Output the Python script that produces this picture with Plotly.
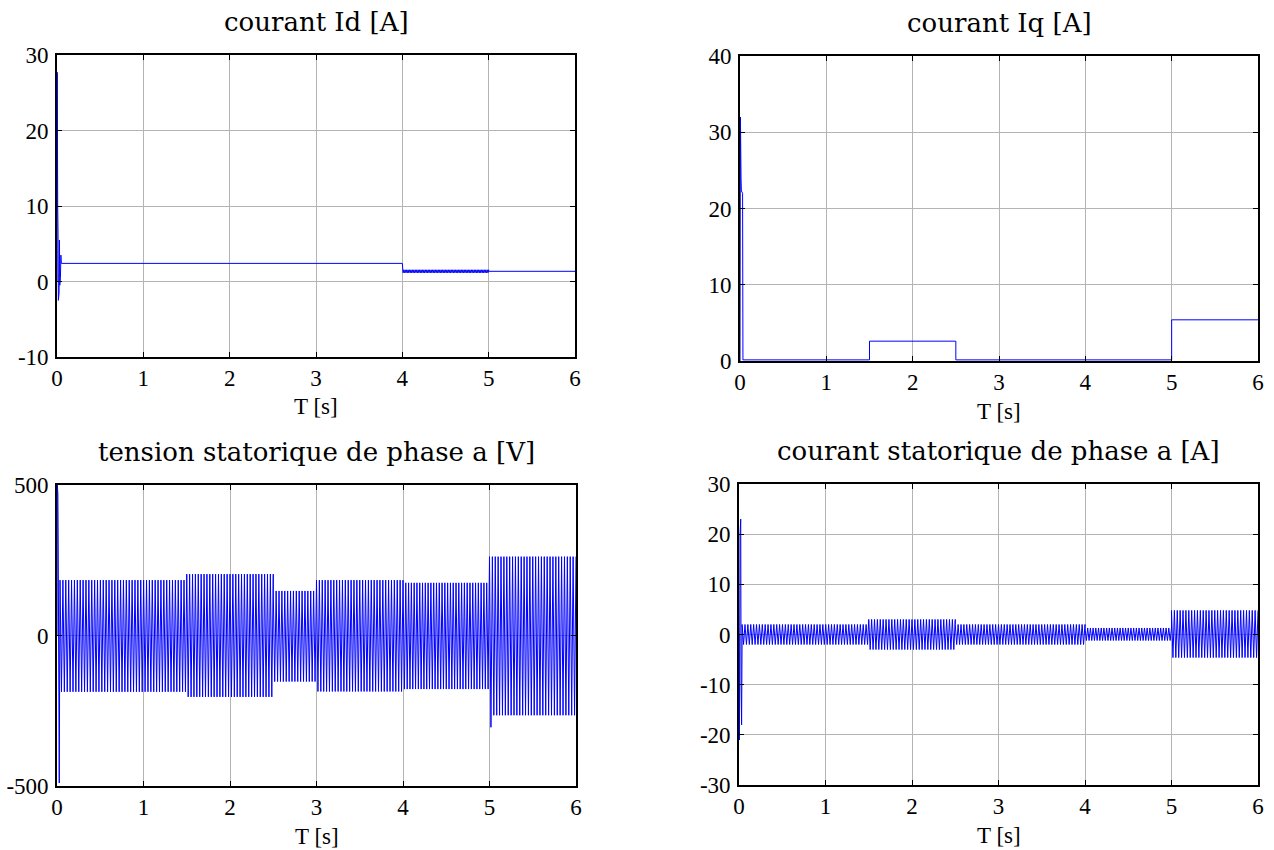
import plotly.graph_objects as go

W, H = 1274, 850
BLUE = "#0000FF"

# ---------------- data ----------------
# time axis ticks
x_ticks = [0, 1, 2, 3, 4, 5, 6]

# courant Id [A]
id_trans_t = [0.0, 0.003, 0.008, 0.012, 0.016, 0.020, 0.024, 0.028, 0.032, 0.036, 0.040, 0.045, 0.050]
id_trans_v = [0.0, 27.7, 10.0, 6.3, -2.5, 6.0, -1.5, 5.5, -0.5, 4.5, 0.5, 3.5, 2.4]
id_seg_t0 = [0.050, 4.0, 5.0]
id_seg_t1 = [4.0, 5.0, 6.0]
id_seg_hi = [2.4, 1.55, 1.35]
id_seg_lo = [2.4, 1.15, 1.35]
id_seg_rate = [0, 60, 0]
id_yticks = [-10, 0, 10, 20, 30]
id_ytext = ["-10", "0", "10", "20", "30"]

# courant Iq [A]
iq_trans_t = [0.0, 0.005, 0.012, 0.016, 0.030, 0.034]
iq_trans_v = [0.0, 32.0, 24.0, 22.3, 22.0, 0.15]
iq_seg_t0 = [0.034, 1.5, 2.5, 5.0]
iq_seg_t1 = [1.5, 2.5, 5.0, 6.0]
iq_seg_hi = [0.15, 2.6, 0.15, 5.4]
iq_seg_lo = [0.15, 2.6, 0.15, 5.4]
iq_seg_rate = [0, 0, 0, 0]
iq_yticks = [0, 10, 20, 30, 40]
iq_ytext = ["0", "10", "20", "30", "40"]

# tension statorique de phase a [V]
va_trans_t = [0.0, 0.004, 0.010, 0.014, 0.018, 0.026, 0.032]
va_trans_v = [0.0, 500.0, 470.0, 300.0, -490.0, -490.0, 0.0]
va_seg_t0 = [0.035, 1.5, 2.5, 3.0, 4.0, 5.0]
va_seg_t1 = [1.5, 2.5, 3.0, 4.0, 5.0, 6.0]
va_seg_hi = [184, 204, 148, 184, 175, 262]
va_seg_lo = [-187, -204, -153, -186, -178, -265]
va_seg_rate = [30, 30, 30, 30, 31, 30]
va_dip_t = [5.0]
va_dip_v = [-305]
va_yticks = [-500, 0, 500]
va_ytext = ["-500", "0", "500"]

# courant statorique de phase a [A]
ia_trans_t = [0.0, 0.005, 0.012, 0.020, 0.024, 0.030, 0.036]
ia_trans_v = [0.0, -21.0, 20.0, 23.0, -10.0, -18.0, 0.0]
ia_seg_t0 = [0.036, 1.5, 2.5, 4.0, 5.0]
ia_seg_t1 = [1.5, 2.5, 4.0, 5.0, 6.0]
ia_seg_hi = [2.0, 3.0, 2.0, 1.3, 4.8]
ia_seg_lo = [-2.0, -3.0, -2.0, -1.2, -4.6]
ia_seg_rate = [30, 30, 30, 32, 30]
ia_yticks = [-30, -20, -10, 0, 10, 20, 30]
ia_ytext = ["-30", "-20", "-10", "0", "10", "20", "30"]


def build(trans_t, trans_v, t0s, t1s, his, los, rates, dip_t=(), dip_v=()):
    """Join the transient points with the segments (flat or oscillating between hi and lo)."""
    ts, vs = list(trans_t), list(trans_v)
    dips = dict(zip(dip_t, dip_v))
    for t0, t1, hi, lo, r in zip(t0s, t1s, his, los, rates):
        if r == 0:
            ts += [t0, t1]
            vs += [hi, hi]
        else:
            half = 0.5 / r
            n = int(round((t1 - t0) / half))
            for k in range(n + 1):
                tk = t0 + k * half
                v = hi if k % 2 == 0 else lo
                if k == 1 and t0 in dips:
                    v = dips[t0]
                ts.append(tk)
                vs.append(v)
    return ts, vs


series = [
    build(id_trans_t, id_trans_v, id_seg_t0, id_seg_t1, id_seg_hi, id_seg_lo, id_seg_rate),
    build(iq_trans_t, iq_trans_v, iq_seg_t0, iq_seg_t1, iq_seg_hi, iq_seg_lo, iq_seg_rate),
    build(va_trans_t, va_trans_v, va_seg_t0, va_seg_t1, va_seg_hi, va_seg_lo, va_seg_rate, va_dip_t, va_dip_v),
    build(ia_trans_t, ia_trans_v, ia_seg_t0, ia_seg_t1, ia_seg_hi, ia_seg_lo, ia_seg_rate),
]

titles = ["courant Id [A]", "courant Iq [A]",
          "tension statorique de phase a [V]", "courant statorique de phase a [A]"]
yticks = [id_yticks, iq_yticks, va_yticks, ia_yticks]
ytexts = [id_ytext, iq_ytext, va_ytext, ia_ytext]

# pixel boxes of the four axes (left, right, top, bottom)
boxes = [(57, 575, 55, 357), (740, 1258, 56, 361), (57, 576, 485, 786), (739, 1258, 484, 785)]

fig = go.Figure()
TICKFONT = dict(family="Liberation Serif", size=23, color="black")
TITLEFONT = dict(family="DejaVu Serif", size=26, color="black")
LABELFONT = dict(family="Liberation Serif", size=23, color="black")

for i, ((ts, vs), box) in enumerate(zip(series, boxes)):
    n = "" if i == 0 else str(i + 1)
    l, r, t, b = box
    fig.add_trace(go.Scatter(x=ts, y=vs, mode="lines", line=dict(color=BLUE, width=1),
                             xaxis="x" + n, yaxis="y" + n, showlegend=False, hoverinfo="skip"))
    axcommon = dict(showline=True, linecolor="black", linewidth=1.6, mirror="allticks",
                    ticks="inside", ticklen=5, tickcolor="black", tickwidth=1,
                    showgrid=True, gridcolor="#b4b4b4", gridwidth=1, zeroline=False,
                    tickfont=TICKFONT, fixedrange=True, automargin=False)
    fig.layout["xaxis" + n] = dict(domain=[l / W, r / W], anchor="y" + n, range=[0, 6],
                                   tickvals=x_ticks, ticktext=[str(v) for v in x_ticks],
                                   ticklabelstandoff=0, **axcommon)
    yt = yticks[i]
    fig.layout["yaxis" + n] = dict(domain=[1 - b / H, 1 - t / H], anchor="x" + n,
                                   range=[yt[0], yt[-1]], tickvals=yt, ticktext=ytexts[i],
                                   ticklabelstandoff=2, **axcommon)
    cx = (l + r) / 2 / W
    fig.add_annotation(text=titles[i], x=cx, y=1 - (t - 33) / H, xref="paper", yref="paper",
                       xanchor="center", yanchor="middle", showarrow=False, font=TITLEFONT)
    fig.add_annotation(text="T [s]", x=cx, y=1 - (b + 50) / H, xref="paper", yref="paper",
                       xanchor="center", yanchor="middle", showarrow=False, font=LABELFONT)

fig.update_layout(width=W, height=H, margin=dict(l=0, r=0, t=0, b=0, autoexpand=False),
                  paper_bgcolor="white", plot_bgcolor="white")

fig.write_html("out.html")
